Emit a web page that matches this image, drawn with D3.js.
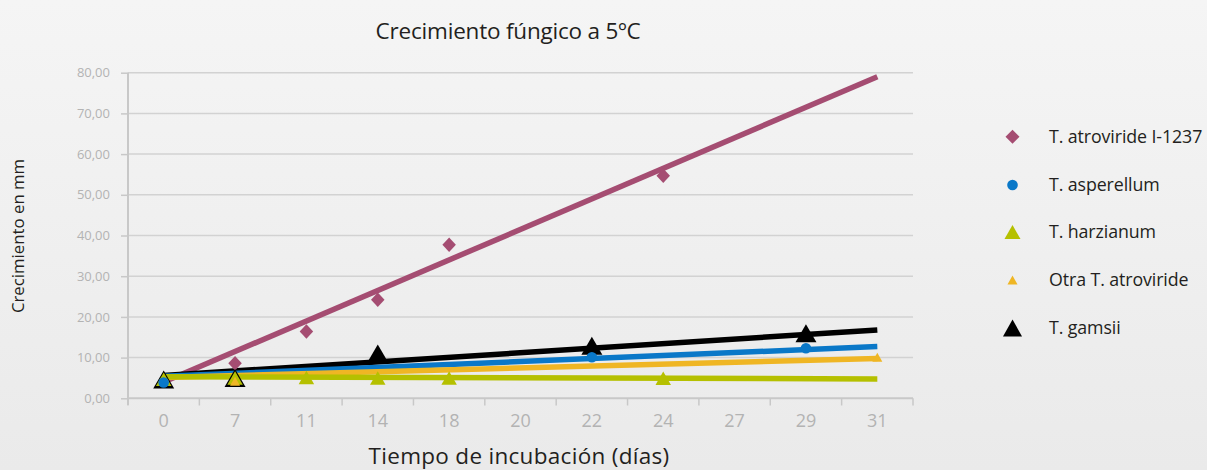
<!DOCTYPE html>
<html><head><meta charset="utf-8">
<script src="https://cdn.jsdelivr.net/npm/d3@7"></script>
<style>html,body{margin:0;padding:0;overflow:hidden;background:#f0f0f0}</style>
</head><body><svg id="chart" width="1207" height="470"></svg>
<script>
// ---- data ----
const categories = ["0","7","11","14","18","20","22","24","27","29","31"];
const yTicks = [0,10,20,30,40,50,60,70,80];
const seriesNames = ["T. atroviride I-1237","T. asperellum","T. harzianum","Otra T. atroviride","T. gamsii"];
const atroviride1237 = [null,8.6,16.4,24.2,37.7,null,null,54.7,null,null,null];
const asperellum     = [3.9,null,null,null,null,null,10.1,null,null,12.3,null];
const harzianum      = [4.7,5.0,5.1,5.0,5.0,null,null,4.9,null,null,null];
const otraAtroviride = [null,4.2,null,null,null,null,null,null,null,null,10.1];
const gamsii         = [4.6,5.0,null,11.0,null,null,12.9,null,null,16.0,null];
// linear trendline values read at first and last category
const trendStart = [4.0,5.4,5.3,5.1,5.6];
const trendEnd   = [79.0,12.7,4.75,9.8,16.8];

// ---- setup ----
const svg = d3.select("#chart");
const W = 1207, H = 470;
const defs = svg.append("defs");
const grad = defs.append("linearGradient").attr("id","bg").attr("x1",0).attr("y1",0).attr("x2",0).attr("y2",1);
grad.append("stop").attr("offset","0%").attr("stop-color","#f5f5f5");
grad.append("stop").attr("offset","100%").attr("stop-color","#eaeaea");
svg.append("rect").attr("width",W).attr("height",H).attr("fill","url(#bg)");

const x = d3.scaleBand().domain(categories).range([128,913]).padding(0);
const xc = c => x(c) + x.bandwidth()/2;
const y = d3.scaleLinear().domain([0,80]).range([398.3,72.7]);

const fontMain = "'Open Sans', 'Noto Sans', sans-serif";

// gridlines
svg.append("g").selectAll("line").data(yTicks.filter(d=>d>0)).join("line")
  .attr("x1",128).attr("x2",913).attr("y1",d=>y(d)).attr("y2",d=>y(d))
  .attr("stroke","#d2d2d2").attr("stroke-width",1.5);

// y axis
const yAxis = d3.axisLeft(y).tickValues(yTicks).tickSize(7).tickPadding(11)
  .tickFormat(d => d3.format(".2f")(d).replace(".",","));
const gy = svg.append("g").attr("transform","translate(128,0)").call(yAxis);
gy.select(".domain").attr("stroke","#c8c8c8").attr("stroke-width",2).attr("d","M0,72.7V405");
gy.selectAll(".tick line").attr("stroke","#c8c8c8").attr("stroke-width",1.5);
gy.selectAll(".tick text").attr("fill","#b3b3b3").attr("font-size",13).attr("font-family",fontMain);

// x axis
const xAxis = d3.axisBottom(x).tickSize(0).tickPadding(16);
const gx = svg.append("g").attr("transform","translate(0,398.3)").call(xAxis);
gx.select(".domain").attr("stroke","#c8c8c8").attr("stroke-width",2).attr("d","M128,0H913");
gx.selectAll(".tick text").attr("fill","#b3b3b3").attr("font-size",18).attr("font-family",fontMain);
// tick marks between categories
svg.append("g").selectAll("line").data(categories.concat(["end"])).join("line")
  .attr("x1",(d,i)=>128 + i*x.bandwidth()).attr("x2",(d,i)=>128 + i*x.bandwidth())
  .attr("y1",398.3).attr("y2",405.5).attr("stroke","#c8c8c8").attr("stroke-width",1.5);

// ---- series ----
const colors = ["#a54d72","#0a78c8","#b5c000","#efb624","#000000"];
const data = [atroviride1237, asperellum, harzianum, otraAtroviride, gamsii];

const first = categories[0], last = categories[categories.length-1];
// trend lines: draw order pink, black, blue, orange, green
[0,4,1,3,2].forEach(i => {
  svg.append("line")
    .attr("x1",xc(first)).attr("y1",y(trendStart[i]))
    .attr("x2",xc(last)).attr("y2",y(trendEnd[i]))
    .attr("stroke",colors[i]).attr("stroke-width",5.5).attr("stroke-linecap","butt");
});

// marker shapes
function tri(w,h){ return `M0,${-h/2}L${w/2},${h/2}L${-w/2},${h/2}Z`; }
function diamond(w,h){ return `M0,${-h/2}L${w/2},0L0,${h/2}L${-w/2},0Z`; }
const markerPath = [
  () => diamond(13.5,14.5),
  null,
  () => tri(15.5,13.5),
  () => tri(10,9),
  () => tri(21,18)
];
function pointsOf(arr){ return categories.map((c,j)=>({c, v:arr[j]})).filter(d=>d.v!=null); }

// marker order: pink, black, green, orange, blue
[0,4,2,3,1].forEach(i => {
  const pts = pointsOf(data[i]);
  const g = svg.append("g");
  if (i === 1) {
    g.selectAll("circle").data(pts).join("circle")
      .attr("cx",d=>xc(d.c)).attr("cy",d=>y(d.v)).attr("r",5.3).attr("fill",colors[i]);
  } else {
    g.selectAll("path").data(pts).join("path")
      .attr("transform",d=>`translate(${xc(d.c)},${y(d.v)})`)
      .attr("d",markerPath[i]()).attr("fill",colors[i]);
  }
});

// ---- titles ----
svg.append("text").attr("x",508).attr("y",39).attr("text-anchor","middle")
  .attr("font-family",fontMain).attr("font-size",22.5).attr("fill","#231f20")
  .attr("letter-spacing",-0.2).text("Crecimiento fúngico a 5ºC");
svg.append("text").attr("transform","translate(24,236) rotate(-90)").attr("text-anchor","middle")
  .attr("font-family",fontMain).attr("font-size",16.8).attr("fill","#231f20")
  .text("Crecimiento en mm");
svg.append("text").attr("x",519).attr("y",464).attr("text-anchor","middle")
  .attr("font-family",fontMain).attr("font-size",22.5).attr("fill","#231f20")
  .attr("letter-spacing",0.3).text("Tiempo de incubación (días)");

// ---- legend ----
const legendY = [136.7,185,232,280,328];
const legendMarkers = [
  () => diamond(14,14),
  null,
  () => tri(16,14),
  () => tri(10,9),
  () => tri(19,17)
];
const lg = svg.append("g");
seriesNames.forEach((name,i) => {
  const ly = legendY[i];
  if (i === 1) {
    lg.append("circle").attr("cx",1012.5).attr("cy",ly).attr("r",5.3).attr("fill",colors[i]);
  } else {
    lg.append("path").attr("transform",`translate(1012.5,${ly})`).attr("d",legendMarkers[i]()).attr("fill",colors[i]);
  }
  lg.append("text").attr("x",1049).attr("y",ly).attr("dy","0.35em")
    .attr("font-family",fontMain).attr("font-size",17.8).attr("fill","#231f20")
    .attr("letter-spacing",-0.1).text(name);
});
</script>
</body></html>
